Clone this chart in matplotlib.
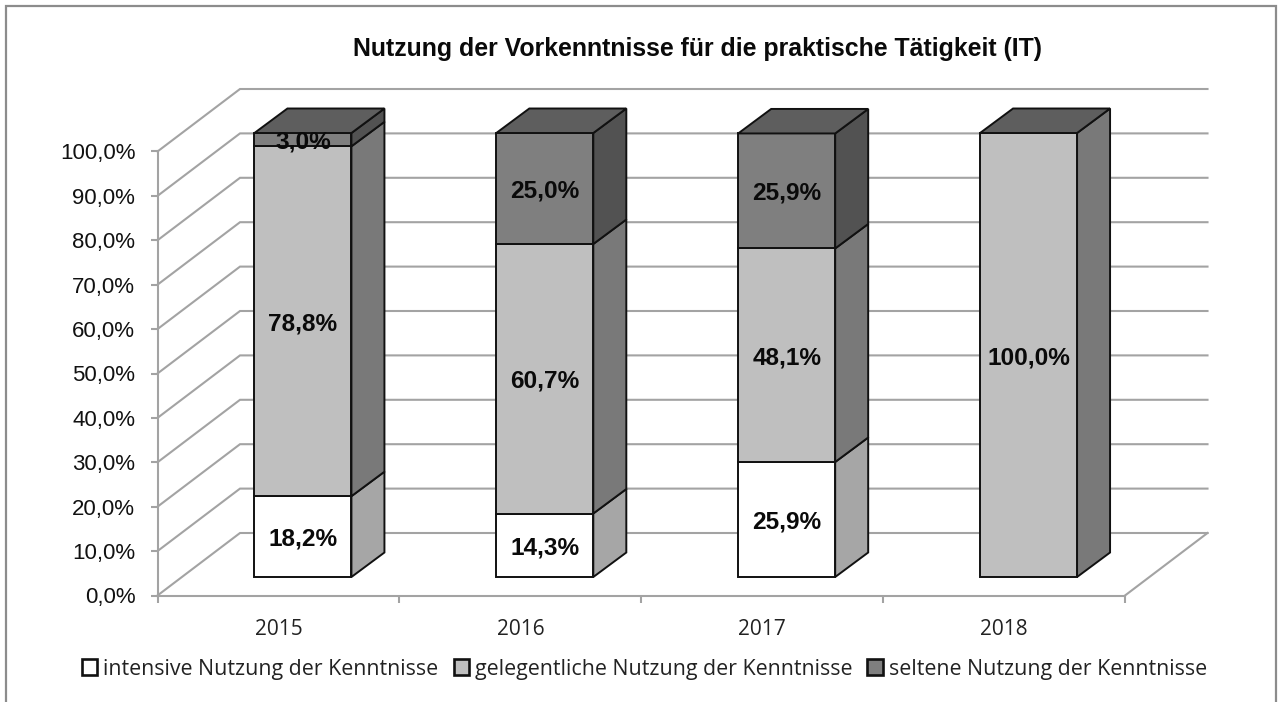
import matplotlib
matplotlib.use("Agg")
import matplotlib.pyplot as plt
from matplotlib.patches import Polygon, Patch, Rectangle

years = ["2015", "2016", "2017", "2018"]
series_names = ["intensive Nutzung der Kenntnisse",
                "gelegentliche Nutzung der Kenntnisse",
                "seltene Nutzung der Kenntnisse"]
intensive = [18.2, 14.3, 25.9, 0.0]
gelegentlich = [78.8, 60.7, 48.1, 100.0]
selten = [3.0, 25.0, 25.9, 0.0]
y_ticks = list(range(0, 101, 10))
title = "Nutzung der Vorkenntnisse für die praktische Tätigkeit (IT)"

W, H = 1278, 702
fig = plt.figure(figsize=(W / 100, H / 100), dpi=100, facecolor="white")
L, R, T, B = 157.5, 1125.0, 151.5, 595.5
ax = fig.add_axes([L / W, 1 - B / H, (R - L) / W, (B - T) / H])
ax.set_xlim(0, 4)
ax.set_ylim(0, 100)
ax.patch.set_alpha(0)

px_x = (R - L) / 4
px_y = (B - T) / 100


def shift(x, y, dx, dy):
    """data position moved by a depth offset given in pixels"""
    return x + dx / px_x, y + dy / px_y


GRID = "#a3a3a3"
WALL = (82.5, 62.5)
BAR_OFF = (24.5, 18.5)
BAR_D = (33.0, 24.5)
BAR_W = 97 / px_x
EDGE = "#111111"
face = ["#ffffff", "#bfbfbf", "#7f7f7f"]
side = ["#a6a6a6", "#797979", "#525252"]
TOP = "#5e5e5e"

# walls and floor
for v in y_ticks:
    x1, y1 = shift(0, v, *WALL)
    x2, y2 = shift(4, v, *WALL)
    ax.plot([0, x1, x2], [v, y1, y2], color=GRID, lw=1.5, clip_on=False,
            solid_joinstyle="miter", zorder=1)
xe, ye = shift(4, 0, *WALL)
ax.plot([4, xe], [0, ye], color=GRID, lw=1.5, clip_on=False, zorder=1)

# stacked bars
for i in range(len(years)):
    base = 0.0
    vals = [intensive[i], gelegentlich[i], selten[i]]
    top_idx = max(k for k, v in enumerate(vals) if v > 0)
    x0, _ = shift(i + 0.5 - BAR_W / 2, 0, *BAR_OFF)
    x1 = x0 + BAR_W
    for k, v in enumerate(vals):
        if v <= 0:
            continue
        _, y0 = shift(0, base, *BAR_OFF)
        y1 = y0 + v
        bx, by = shift(x1, y0, *BAR_D)
        tx, ty = shift(x1, y1, *BAR_D)
        common = dict(edgecolor=EDGE, lw=1.4, clip_on=False, zorder=3 + k * 0.1,
                      joinstyle="miter")
        ax.add_patch(Polygon([(x1, y0), (bx, by), (tx, ty), (x1, y1)],
                             facecolor=side[k], **common))
        ax.add_patch(Rectangle((x0, y0), BAR_W, v, facecolor=face[k], **common))
        if k == top_idx:
            lx, ly = shift(x0, y1, *BAR_D)
            ax.add_patch(Polygon([(x0, y1), (lx, ly), (tx, ty), (x1, y1)],
                                 facecolor=TOP, **common))
        ax.text((x0 + x1) / 2, y0 + v / 2, f"{v:.1f}%".replace(".", ","),
                ha="center", va="center_baseline", fontsize=17.6, fontweight="bold",
                family="Liberation Sans", color="#0a0a0a", zorder=6)
        base += v

# axes
for s in ("top", "right"):
    ax.spines[s].set_visible(False)
for s in ("left", "bottom"):
    ax.spines[s].set_color(GRID)
    ax.spines[s].set_linewidth(1.5)
    ax.spines[s].set_zorder(1)
ax.set_yticks(y_ticks)
ax.set_yticklabels([f"{v},0%" for v in y_ticks], family="Liberation Sans",
                   fontsize=16, color="#111111")
ax.tick_params(axis="y", length=5, width=1.5, color=GRID, pad=11)
ax.set_xticks(range(5))
ax.set_xticklabels([])
ax.tick_params(axis="x", which="major", length=5, width=1.5, color=GRID)
ax.set_xticks([i + 0.5 for i in range(4)], minor=True)
ax.set_xticklabels(years, minor=True, family="Open Sans", fontsize=15, color="#222222")
ax.tick_params(axis="x", which="minor", length=0, pad=17)

fig.text(697.5 / W, 1 - 49 / H, title, ha="center", va="center", family="Liberation Sans",
         fontweight="bold", fontsize=17.9, color="#0a0a0a")

handles = [Patch(facecolor=c, edgecolor=EDGE, lw=1.9) for c in face]
fig.legend(handles, series_names, loc="center", bbox_to_anchor=(644.5 / W, 1 - 669 / H),
           ncol=3, frameon=False, handlelength=0.72, handleheight=0.72, handletextpad=0.28,
           columnspacing=0.7, borderpad=0, prop={"family": "Open Sans", "size": 15.4},
           labelcolor="#222222")

# outer frame, open at the bottom
fig.add_artist(plt.Line2D([6 / W, 6 / W, 1275.5 / W, 1275.5 / W],
                          [0, 1 - 5.5 / H, 1 - 5.5 / H, 0],
                          color="#8c8c8c", lw=1.6, transform=fig.transFigure,
                          solid_joinstyle="miter"))

fig.savefig("out.png", dpi=100, facecolor="white")
